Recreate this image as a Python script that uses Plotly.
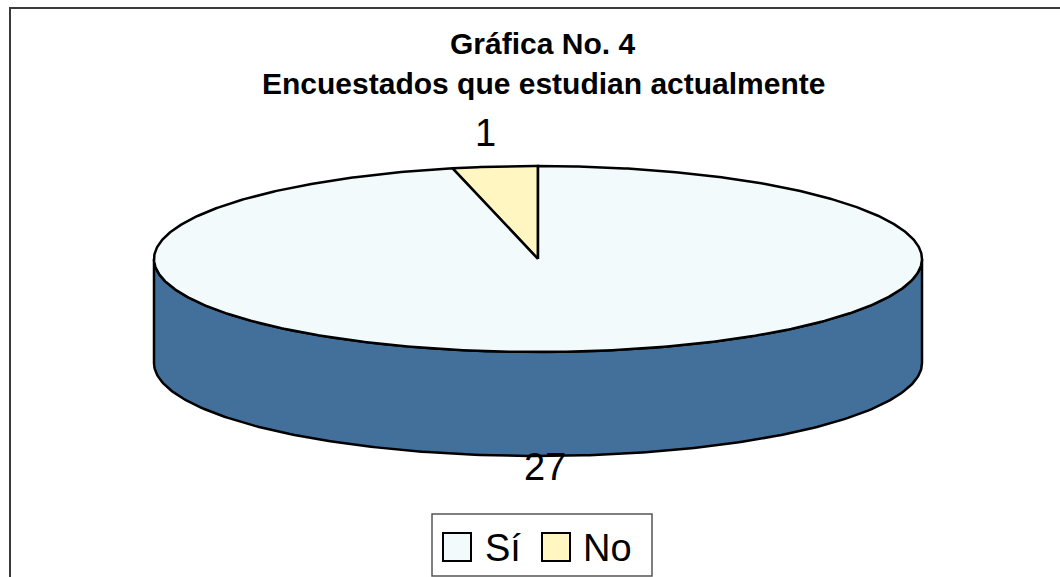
import numpy as np
import plotly.graph_objects as go

# ---- data ----
categories = ["Sí", "No"]
values = [27, 1]
slice_colors = ["#F2FAFB", "#FFF6C2"]
title_lines = ["Gráfica No. 4", "Encuestados que estudian actualmente"]

# ---- geometry (pixel space) ----
W, H = 1060, 577
cx, cy, rx, ry, depth = 538, 259, 384, 93, 104
side_color = "#42709A"
edge = dict(color="black", width=2.5)

def ell(t_deg, dy=0.0):
    t = np.radians(t_deg)
    return cx + rx * np.cos(t), cy - ry * np.sin(t) + dy

fig = go.Figure()

# side wall (front half)
t_front = np.linspace(180, 360, 200)
xt, yt = ell(t_front)
xb, yb = ell(t_front[::-1], depth)
fig.add_trace(go.Scatter(x=np.r_[xt, xb, xt[0]], y=np.r_[yt, yb, yt[0]],
                         mode="lines", fill="toself", fillcolor=side_color,
                         line=edge, hoverinfo="skip", showlegend=False))

# top slices: "No" starts at 12 o'clock going counter-clockwise
total = sum(values)
order = [1, 0]
start = 90.0
for i in order:
    span = 360.0 * values[i] / total
    ts = np.linspace(start, start + span, max(4, int(span * 2)))
    xs, ys = ell(ts)
    fig.add_trace(go.Scatter(x=np.r_[cx, xs, cx], y=np.r_[cy, ys, cy],
                             mode="lines", fill="toself",
                             fillcolor=slice_colors[i], line=edge,
                             name=categories[i], hoverinfo="skip",
                             showlegend=False))
    start += span

# value labels (positioned outside the slices)
label_pos = {1: (485, 133), 0: (545, 467)}
annotations = []
for i, (lx, ly) in label_pos.items():
    annotations.append(dict(x=lx, y=ly, xref="x", yref="y", text=str(values[i]),
                            showarrow=False,
                            font=dict(family="Liberation Sans, Arial", size=38, color="black")))

# title
annotations.append(dict(x=542, y=43, xref="x", yref="y", text="<b>" + title_lines[0] + "</b>",
                        showarrow=False,
                        font=dict(family="Liberation Sans, Arial", size=30, color="black")))
annotations.append(dict(x=543, y=83, xref="x", yref="y", text="<b>" + title_lines[1] + "</b>",
                        showarrow=False,
                        font=dict(family="Liberation Sans, Arial", size=30, color="black")))

shapes = []
# chart border (top + left visible)
shapes.append(dict(type="rect", xref="x", yref="y", x0=10, y0=8, x1=1075, y1=595,
                   line=dict(color="#3a3a3a", width=2), layer="below"))

# legend box
shapes.append(dict(type="rect", xref="x", yref="y", x0=432, y0=514, x1=652, y1=576,
                   line=dict(color="#555555", width=1.5), fillcolor="white", layer="below"))
legend_items = [(443, 485), (542, 583)]
for i, (sx, tx) in enumerate(legend_items):
    shapes.append(dict(type="rect", xref="x", yref="y", x0=sx, y0=533, x1=sx + 28, y1=561,
                       line=dict(color="black", width=2), fillcolor=slice_colors[i]))
    annotations.append(dict(x=tx - 2, y=548, xref="x", yref="y", text=categories[i],
                            showarrow=False, xanchor="left",
                            font=dict(family="Liberation Sans, Arial", size=38, color="black")))

fig.update_layout(
    width=W, height=H, margin=dict(l=0, r=0, t=0, b=0),
    paper_bgcolor="white", plot_bgcolor="white",
    xaxis=dict(range=[0, W], visible=False, fixedrange=True),
    yaxis=dict(range=[H, 0], visible=False, fixedrange=True),
    shapes=shapes, annotations=annotations, showlegend=False,
)

fig.write_html("out.html", config={"displayModeBar": False},
               post_script="document.body.style.margin='0';document.body.style.overflow='hidden';")
